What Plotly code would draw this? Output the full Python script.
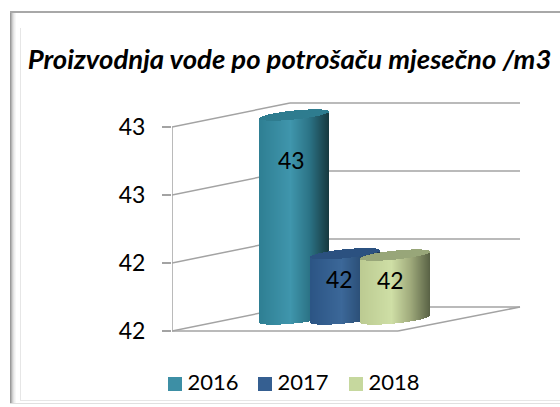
import numpy as np
import plotly.graph_objects as go

# ---- data
years = ["2016", "2017", "2018"]
values = [43.0, 41.98, 41.97]
tick_values = [41.5, 42.0, 42.5, 43.0]
tick_labels = ["42", "42", "43", "43"]
title_text = "Proizvodnja vode po potrošaču mjesečno /m3"

# ---- styling
W, H = 560, 407
PL, PR, PT, PB = 172, 540, 90, 398
PX_PER_UNIT = 204 / 1.5
val = lambda px: px / PX_PER_UNIT          # pixels -> value units
y_floor = tick_values[0]
DEPTH_X, DEPTH_Y = 118, val(24)
FRONT_R, BACK_R = 398, 520
GRID = "#a3a3a3"
bar_left = [259, 310, 360]
BAR_W = 70
MID_DEPTH_Y = val(12)
STOPS = [0.0, 0.45, 0.72, 1.0]
bar_stops = [
    ["#2f7f93", "#4096ad", "#2c7487", "#17393f"],
    ["#2c5585", "#3c6899", "#2c5078", "#1c3350"],
    ["#bccb92", "#cfdfa6", "#a0ab7c", "#596245"],
]
top_color = ["#2e7c8f", "#2b5180", "#98a679"]
swatch_color = ["#3d8fa5", "#355f91", "#c6d89e"]
label_x = [291, 339, 390]
label_drop = [45, 25, 25]
legend_x = [175, 265, 356]
LEGEND_PY = 384


def hex2rgb(h):
    return np.array([int(h[i:i + 2], 16) for i in (1, 3, 5)], float)


def ramp(stops, t):
    rgb = np.array([hex2rgb(s) for s in stops])
    return [
        "rgb(%d,%d,%d)" % tuple(np.interp(u, STOPS, rgb[:, c]) for c in range(3))
        for u in t
    ]


fig = go.Figure()

# cylinders: one 1 px bar per column, lower and upper edges follow the ellipses
for i, (yr, v) in enumerate(zip(years, values)):
    xs = np.arange(bar_left[i], bar_left[i] + BAR_W) + 0.5
    u = (xs - bar_left[i]) / BAR_W * 2 - 1
    shear = u * val(3.5)
    arc = np.sqrt(np.clip(1 - u ** 2, 0, 1)) * val(4.5)
    bottom_c = y_floor + MID_DEPTH_Y + shear
    top_c = v + MID_DEPTH_Y + shear
    fig.add_trace(go.Bar(
        x=xs, base=bottom_c - arc, y=(top_c - arc) - (bottom_c - arc), width=1,
        marker=dict(color=ramp(bar_stops[i], (u + 1) / 2), line_width=0),
        showlegend=False, hoverinfo="skip", cliponaxis=False))
    fig.add_trace(go.Bar(
        x=xs, base=top_c - arc, y=2 * arc, width=1,
        marker=dict(color=top_color[i], line_width=0),
        showlegend=False, hoverinfo="skip", cliponaxis=False))

# legend: swatch and text of each year
legend_y = y_floor - val(LEGEND_PY - 331)
for i, yr in enumerate(years):
    fig.add_trace(go.Scatter(
        x=[legend_x[i]], y=[legend_y], mode="markers+text", name=yr,
        text=["\u2009" + yr], textposition="middle right",
        textfont=dict(family="Lato", size=22, color="#000"),
        marker=dict(symbol="square", size=14, color=swatch_color[i]),
        showlegend=False, cliponaxis=False, hoverinfo="skip"))

# walls / floor
shapes = []


def line(x0, y0, x1, y1):
    shapes.append(dict(type="line", xref="x", yref="y", x0=x0, y0=y0, x1=x1, y1=y1,
                       layer="below", line=dict(color=GRID, width=1.5)))


for t in tick_values:
    line(PL, t, PL + DEPTH_X, t + DEPTH_Y)
    line(PL + DEPTH_X, t + DEPTH_Y, BACK_R, t + DEPTH_Y)
line(PL, y_floor, PL, tick_values[-1])
line(PL, y_floor, FRONT_R, y_floor)
line(FRONT_R, y_floor, BACK_R, y_floor + DEPTH_Y)


# frame of the picture (pixel based)
def rect(x0, y0, x1, y1, color):
    shapes.append(dict(type="rect", xref="paper", yref="paper",
                       x0=(x0 - PL) / (PR - PL), x1=(x1 - PL) / (PR - PL),
                       y0=(PB - y1) / (PB - PT), y1=(PB - y0) / (PB - PT),
                       fillcolor=color, line_width=0, layer="below"))


for k, c in enumerate(["#9a9a9a", "#b4b4b4", "#cfcfcf", "#e2e2e2", "#efefef", "#f7f7f7"]):
    rect(10 + k, 11, 11 + k, 404, c)
rect(10, 11, 560, 13, "#a8a8a8")
rect(20, 28, 21, 400, "#e6e6e6")
rect(20, 400, 560, 401, "#e6e6e6")
rect(10, 403, 560, 404, "#e0e0e0")

annotations = [
    dict(x=label_x[i], y=v + MID_DEPTH_Y - val(label_drop[i]), xref="x", yref="y",
         text=f"{v:.0f}", showarrow=False, font=dict(family="Lato", size=23, color="#000"))
    for i, v in enumerate(values)
]

fig.update_layout(
    width=W, height=H,
    margin=dict(l=PL, r=W - PR, t=PT, b=H - PB, pad=0, autoexpand=False),
    paper_bgcolor="white", plot_bgcolor="rgba(0,0,0,0)", barmode="overlay", bargap=0,
    font=dict(family="Lato", size=23, color="#000"),
    title=dict(text=f"<b><i>{title_text}</i></b>", x=289.5 / W, xanchor="center",
               y=1 - 59 / H, yanchor="middle", font=dict(family="Lato", size=27.5)),
    xaxis=dict(range=[PL, PR], visible=False, fixedrange=True),
    yaxis=dict(
        range=[y_floor - val(PB - 331), tick_values[-1] + val(127 - PT)],
        tickvals=tick_values, ticktext=tick_labels, ticks="outside", ticklen=9,
        tickcolor=GRID, tickwidth=1.5, showgrid=False, zeroline=False, showline=False,
        ticklabelstandoff=12, tickfont=dict(family="Lato", size=23, color="#000")),
    shapes=shapes, annotations=annotations, showlegend=False,
)

fig.write_html("out.html", config=dict(displayModeBar=False),
               post_script="document.body.style.margin='0';document.documentElement.style.overflow='hidden';")
